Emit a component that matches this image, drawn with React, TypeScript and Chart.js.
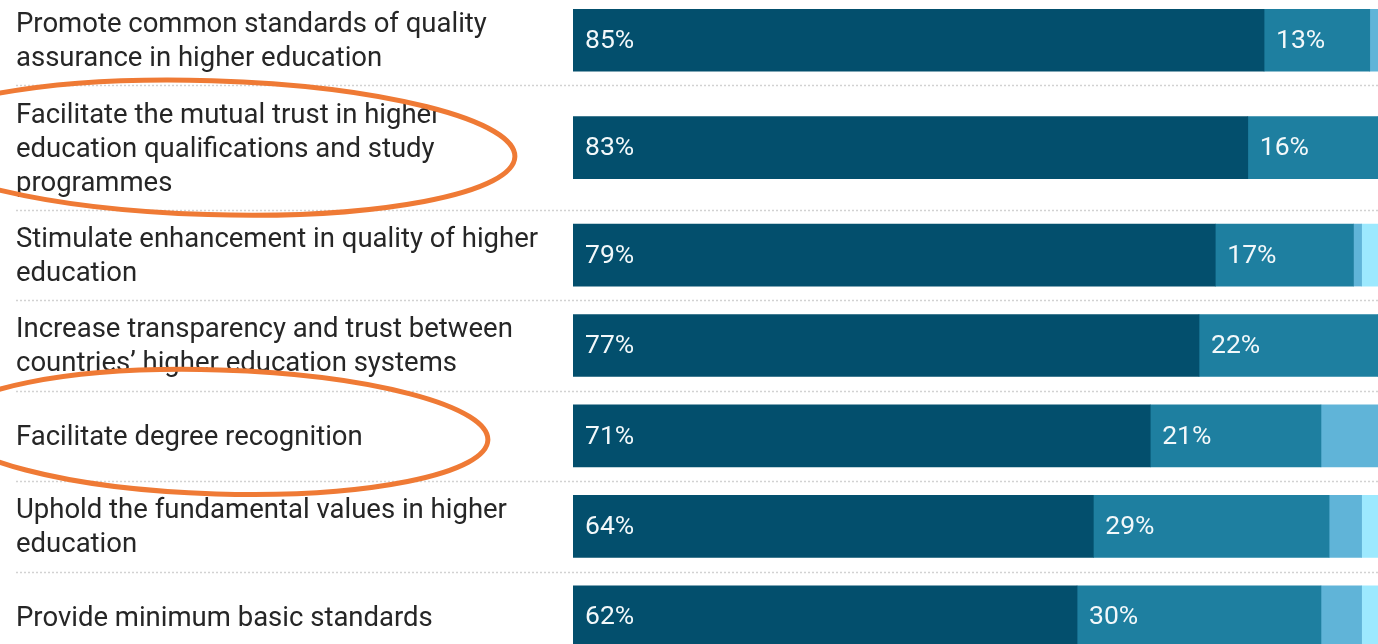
import React, { useEffect, useRef } from "react";
import { Chart, registerables } from "chart.js";

Chart.register(...registerables);

// ---- data ----
const categories: string[][] = [
  ["Promote common standards of quality", "assurance in higher education"],
  ["Facilitate the mutual trust in higher", "education qualifications and study", "programmes"],
  ["Stimulate enhancement in quality of higher", "education"],
  ["Increase transparency and trust between", "countries’ higher education systems"],
  ["Facilitate degree recognition"],
  ["Uphold the fundamental values in higher", "education"],
  ["Provide minimum basic standards"],
];
const seriesNames = ["Very important", "Important", "Slightly important", "Not important"];
const veryImportant = [85, 83, 79, 77, 71, 64, 62];
const important = [13, 16, 17, 22, 21, 29, 30];
const slightlyImportant = [2, 1, 1, 1, 8, 4, 5];
const notImportant = [0, 0, 3, 0, 0, 3, 3];
const labelledSeries = [0, 1];
const highlightedRows = [1, 4];

// ---- styling ----
const seriesColors = ["#034f6d", "#1e7fa0", "#60b4d8", "#9de9fe"];
const FONT = "Roboto";
const LABEL_SIZE = 27.5;
const VALUE_SIZE = 26.5;
const LINE_PX = 34;
const ROW_PAD = 0.66;

// row layout in "line units": each row is as tall as its label (min 2 lines)
const rowSizes = categories.map((c) => Math.max(2, c.length) + ROW_PAD);
const boundaries: number[] = [0];
rowSizes.forEach((s) => boundaries.push(boundaries[boundaries.length - 1] + s));
const rowCenters = rowSizes.map((s, i) => boundaries[i] + s / 2);
const totalUnits = boundaries[boundaries.length - 1];

const seriesValues = [veryImportant, important, slightlyImportant, notImportant];

const CANVAS_W = 1392;
const CANVAS_H = Math.round(totalUnits * LINE_PX);

const decorPlugin = {
  id: "decor",
  beforeDatasetsDraw(chart: any) {
    const ctx = chart.ctx;
    const y = chart.scales.y;
    ctx.save();
    ctx.strokeStyle = "#d2d2d2";
    ctx.lineWidth = 1.5;
    ctx.setLineDash([2, 2]);
    boundaries.forEach((b) => {
      const py = Math.round(y.getPixelForValue(b)) + 0.5;
      ctx.beginPath();
      ctx.moveTo(16, py);
      ctx.lineTo(chart.width, py);
      ctx.stroke();
    });
    ctx.restore();
  },
  afterDatasetsDraw(chart: any) {
    const ctx = chart.ctx;
    ctx.save();
    ctx.font = `${VALUE_SIZE}px ${FONT}`;
    ctx.fillStyle = "#f2f8fa";
    ctx.textBaseline = "middle";
    ctx.textAlign = "left";
    labelledSeries.forEach((di) => {
      const meta = chart.getDatasetMeta(di);
      meta.data.forEach((el: any, i: number) => {
        const v = seriesValues[di][i];
        if (!v) return;
        const left = Math.min(el.base, el.x);
        ctx.fillText(`${v}%`, left + 12, el.y + 1);
      });
    });
    ctx.restore();
  },
  afterDraw(chart: any) {
    const ctx = chart.ctx;
    const y = chart.scales.y;
    ctx.save();
    ctx.strokeStyle = "#ef7a35";
    ctx.lineWidth = 5;
    highlightedRows.forEach((r) => {
      const lines = categories[r].length;
      const cy = y.getPixelForValue(rowCenters[r]) - (lines === 1 ? 4 : 0);
      const rx = lines === 1 ? 270 : 305;
      const ry = lines === 1 ? 62 : 67;
      ctx.beginPath();
      ctx.ellipse(lines === 1 ? 218 : 210, cy, rx, ry, 0.03, 0, Math.PI * 2);
      ctx.stroke();
    });
    ctx.restore();
  },
};

export default function App() {
  const canvasRef = useRef<HTMLCanvasElement | null>(null);

  useEffect(() => {
    if (!canvasRef.current) return;
    const chart = new Chart(canvasRef.current, {
      type: "bar",
      data: {
        datasets: seriesValues.map((vals, di) => ({
          label: seriesNames[di],
          data: vals.map((v, i) => ({ x: v, y: rowCenters[i] })),
          backgroundColor: seriesColors[di],
          borderWidth: 0,
          barThickness: 62,
          stack: "all",
        })),
      },
      options: {
        indexAxis: "y",
        responsive: false,
        animation: false,
        layout: { padding: { left: 16, right: 6, top: 0, bottom: 0 } },
        plugins: {
          legend: { display: false },
          tooltip: { enabled: false },
        },
        scales: {
          x: {
            type: "linear",
            stacked: true,
            min: 0,
            max: 100,
            display: false,
          },
          y: {
            type: "linear",
            reverse: true,
            offset: false,
            min: 0,
            max: totalUnits,
            grid: { display: false, offset: false },
            border: { display: false },
            afterBuildTicks: (scale: any) => {
              scale.ticks = rowCenters.map((v) => ({ value: v }));
            },
            afterFit: (scale: any) => {
              scale.width = 573 - 16;
              scale.paddingTop = 0;
              scale.paddingBottom = 0;
            },
            ticks: {
              autoSkip: false,
              crossAlign: "far",
              padding: 0,
              labelOffset: 2,
              color: "#262626",
              font: { family: FONT, size: LABEL_SIZE, lineHeight: LINE_PX / LABEL_SIZE },
              callback: (_v: any, i: number) => categories[i],
            },
          },
        },
      },
      plugins: [decorPlugin],
    } as any);
    return () => chart.destroy();
  }, []);

  return (
    <div
      style={{
        position: "fixed",
        left: 0,
        top: 0,
        width: 1378,
        height: 644,
        overflow: "hidden",
        background: "#ffffff",
      }}
    >
      <canvas
        ref={canvasRef}
        width={CANVAS_W}
        height={CANVAS_H}
        style={{ position: "absolute", left: 0, top: -5, width: CANVAS_W, height: CANVAS_H }}
      />
    </div>
  );
}
